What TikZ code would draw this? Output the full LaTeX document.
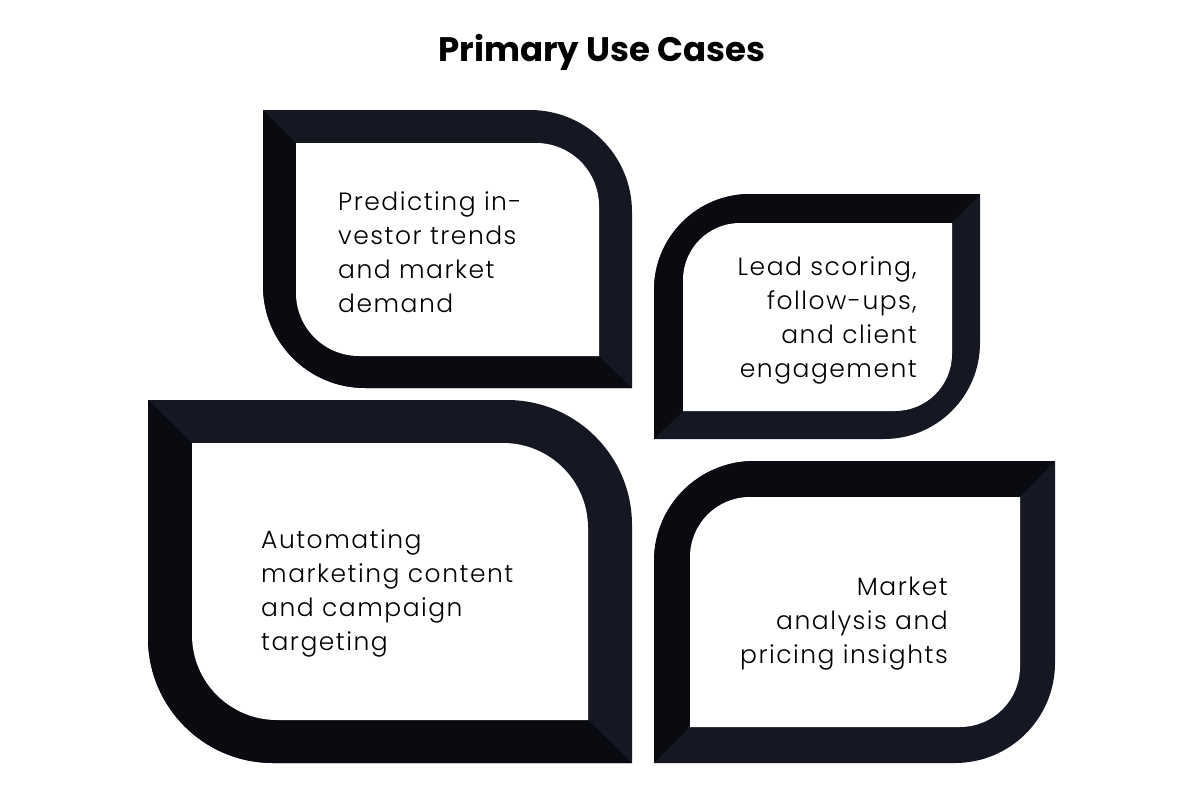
\documentclass[tikz,border=0pt]{standalone}
\usepackage{fontspec}
\setmainfont{Poppins}[UprightFont=* Light,BoldFont=* Bold]
\newfontfamily\bodyfam{Poppins}[UprightFont=* Light,LetterSpace=6]
\begin{document}
\begin{tikzpicture}[x=1pt,y=1pt,
  bodytext/.style={inner sep=0pt,font=\bodyfam\fontsize{25}{34}\selectfont,text=black},
  titletext/.style={inner sep=0pt,font=\fontsize{34}{40}\selectfont\bfseries,text=black}]
\definecolor{framelight}{HTML}{151823}
\definecolor{framedark}{HTML}{0A0B10}
% type A: rounded top-right and bottom-left
\newcommand\leafApath[5]{(#1,-#2) -- ({#3-#5},-#2) arc (90:0:#5) -- (#3,-#4) -- ({#1+#5},-#4) arc (270:180:#5) -- cycle}
% type B: rounded top-left and bottom-right
\newcommand\leafBpath[5]{({#1+#5},-#2) -- (#3,-#2) -- (#3,{-#4+#5}) arc (0:-90:#5) -- (#1,-#4) -- (#1,{-#2-#5}) arc (180:90:#5) -- cycle}
% #1-#5 outer, #6-#9 inner corners
\newcommand\leafA[9]{%
  \fill[framelight] \leafApath{#1}{#2}{#3}{#4}{#5};
  \begin{scope}
    \clip \leafApath{#1}{#2}{#3}{#4}{#5};
    \fill[framedark] (#1,-#2) -- (#6,-#7) -- (#8,-#9) -- (#3,-#4) -- (#3,-900) -- ({#1-100},-900) -- ({#1-100},-#2) -- cycle;
  \end{scope}}
\newcommand\leafB[9]{%
  \fill[framelight] \leafBpath{#1}{#2}{#3}{#4}{#5};
  \begin{scope}
    \clip \leafBpath{#1}{#2}{#3}{#4}{#5};
    \fill[framedark] (#3,-#2) -- (#8,-#7) -- (#6,-#9) -- (#1,-#4) -- ({#1-100},-#4) -- ({#1-100},{-#2+100}) -- (#3,{-#2+100}) -- cycle;
  \end{scope}}
\useasboundingbox[fill=white] (0,0) rectangle (1200,-800);
% title
\node[titletext,anchor=base] (title) at (602,-62) {Primary Use Cases};
% box 1
\leafA{263}{110}{632}{388}{102}{296}{143}{599}{356}
\fill[white] \leafApath{296}{143}{599}{356}{63};
\node[bodytext,anchor=base west,align=left] (t1) at (338,-312) {Predicting in-\\vestor trends\\and market\\demand};
% box 2
\leafB{654}{194}{980}{439}{96}{683}{223}{952}{411}
\fill[white] \leafBpath{683}{223}{952}{411}{57};
\node[bodytext,anchor=base east,align=right] (t2) at (917,-377) {Lead scoring,\\follow-ups,\\and client\\engagement};
% box 3
\leafA{148}{400}{632}{763}{125}{192}{443}{588}{720}
\fill[white] \leafApath{192}{443}{588}{720}{85};
\node[bodytext,anchor=base west,align=left] (t3) at (261,-650) {Automating\\marketing content\\and campaign\\targeting};
% box 4
\leafB{654}{461}{1055}{763}{100}{690}{497}{1020}{727}
\fill[white] \leafBpath{690}{497}{1020}{727}{60};
\node[bodytext,anchor=base east,align=right] (t4) at (948,-663) {Market\\analysis and\\pricing insights};
\end{tikzpicture}
\end{document}
